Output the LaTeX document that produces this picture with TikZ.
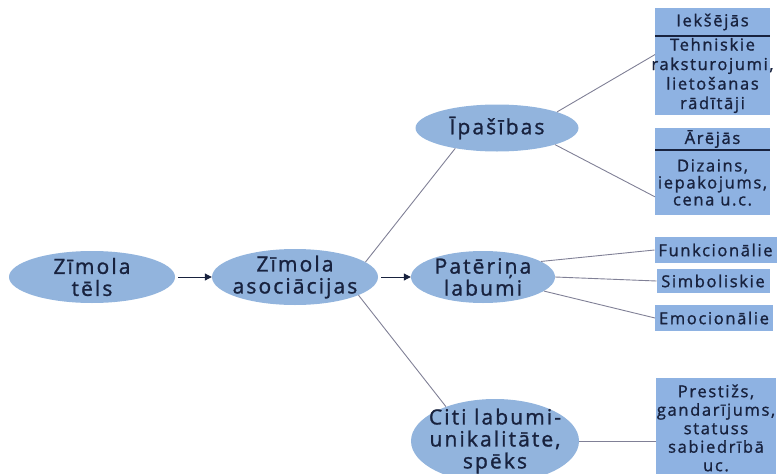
\documentclass[tikz,border=0pt]{standalone}
\usepackage{fontspec}
\setmainfont{Open Sans}
\newfontfamily\diagfont[LetterSpace=10,FakeBold=1.2]{Open Sans}
\usepackage{xcolor}
\usetikzlibrary{positioning,arrows.meta,shapes.geometric}
\definecolor{ovalblue}{RGB}{146,180,221}
\definecolor{boxblue}{RGB}{142,178,226}
\definecolor{inkblue}{RGB}{24,34,62}
\definecolor{linkgrey}{RGB}{128,128,150}

\begin{document}
\begin{tikzpicture}[x=1pt,y=-1pt,
  oval/.style={ellipse, fill=ovalblue, text=inkblue, align=center, inner xsep=-40pt, inner ysep=-14pt, font=\diagfont\fontsize{21}{22}\selectfont},
  tag/.style={rectangle, fill=boxblue, text=inkblue, align=center, inner xsep=-20pt, inner ysep=0pt, outer sep=0pt, minimum width=115pt, font=\diagfont\fontsize{16.5}{18.5}\selectfont},
  link/.style={draw=linkgrey, line width=0.9pt},
  push/.style={draw=inkblue, line width=1pt, -{Triangle[length=7pt,width=7pt]}, shorten <=3pt},
  rule/.style={draw=inkblue, line width=1.6pt}]
\useasboundingbox (0,0) rectangle (780,474);

% ovals
\node[oval, minimum width=166pt, minimum height=52pt] (tels) at (92,277) {Zīmola\\tēls};
\node[oval, minimum width=166pt, minimum height=56pt] (asoc) at (295,277) {Zīmola\\asociācijas};
\node[oval, minimum width=144pt, minimum height=52pt] (pat) at (483,277) {Patēriņa\\labumi};
\node[oval, minimum width=163pt, minimum height=47pt] (ipas) at (497,128) {Īpašības};
\node[oval, minimum width=168pt, minimum height=84pt] (citi) at (495,441) {Citi labumi-\\unikalitāte,\\spēks};

% boxes on the right
\node[tag, minimum height=28pt] (iekh) at (712.5,22) {Iekšējās};
\node[tag, minimum height=79pt, below=0pt of iekh, font=\diagfont\fontsize{16.5}{19.5}\selectfont] (iekb) {Tehniskie\\raksturojumi,\\lietošanas\\rādītāji};
\node[tag, minimum height=22pt] (areh) at (712.5,139) {Ārējās};
\node[tag, minimum height=65pt, below=0pt of areh, font=\diagfont\fontsize{16.5}{17}\selectfont] (areb) {Dizains,\\iepakojums,\\cena u.c.};
\draw[rule] (iekh.south west) -- (iekh.south east);
\draw[rule] (areh.south west) -- (areh.south east);

\node[tag, minimum width=122pt, minimum height=26pt] (funk) at (715.5,250) {Funkcionālie};
\node[tag, minimum width=113pt, minimum height=24pt] (simb) at (713,281) {Simboliskie};
\node[tag, minimum width=118pt, minimum height=26pt] (emo) at (714,318) {Emocionālie};
\node[tag, minimum width=120pt, minimum height=100pt] (prest) at (716,428) {Prestižs,\\gandarījums,\\statuss\\sabiedrībā\\uc.};

% connectors
\draw[push] (tels) -- (asoc);
\draw[push] (asoc) -- (pat);
\draw[link] (asoc.12) -- (ipas.206);
\draw[link] (asoc.344) -- (citi.145);
\draw[link] (ipas.15) -- (iekb.160);
\draw[link] (ipas.344) -- (areb.194);
\draw[link] (pat.15) -- (funk.west);
\draw[link] (pat.east) -- (simb.west);
\draw[link] (pat.347) -- (emo.west);
\draw[link] (citi.east) -- (citi.east -| prest.west);
\end{tikzpicture}
\end{document}
